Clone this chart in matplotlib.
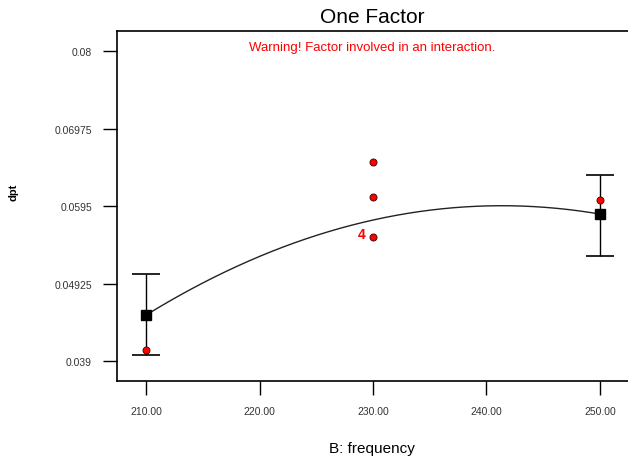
import matplotlib.pyplot as plt
import numpy as np

plt.rcParams['font.family'] = ['Liberation Sans', 'DejaVu Sans']

# design points (B: frequency) and the model means with their confidence bands
levels = [210.0, 250.0]
means = [0.04508, 0.05844]
band_low = [0.0398, 0.05289]
band_high = [0.0505, 0.0636]

# observed runs
obs_x = [210.0, 230.0, 230.0, 230.0, 250.0]
obs_y = [0.04045, 0.06532, 0.06069, 0.0554, 0.0603]

# fitted quadratic passes through these predictions
fit_x = [210.0, 230.0, 250.0]
fit_y = [0.04508, 0.05765, 0.05844]

yticks = [0.039, 0.04925, 0.0595, 0.06975, 0.08]
xticks = [210, 220, 230, 240, 250]

fig = plt.figure(figsize=(6.28, 4.64), dpi=100)
ax = fig.add_axes([0.1863, 0.1767, 0.8137, 0.7543])

coef = np.polyfit(fit_x, fit_y, 2)
xs = np.linspace(210, 250, 200)
ax.plot(xs, np.polyval(coef, xs), color='#222222', lw=1.0, zorder=2)

means = np.array(means)
ax.errorbar(levels, means,
            yerr=[means - np.array(band_low), np.array(band_high) - means],
            fmt='s', color='black', ms=7, ecolor='black', elinewidth=1.0,
            capsize=10, capthick=1.2, zorder=3)

ax.scatter(obs_x, obs_y, s=26, color='red', edgecolors='#400000',
           linewidths=0.6, zorder=4)
ax.text(229.3, obs_y[3] + 0.0004, '4', color='red', fontsize=10,
        fontweight='bold', ha='right', va='center')

ax.set_xlim(207.44, 252.47)
ax.set_ylim(0.03636, 0.08265)
ax.set_xticks(xticks)
ax.set_xticklabels(['%.2f' % t for t in xticks])
ax.set_yticks(yticks)
ax.set_yticklabels(['0.039', '0.04925', '0.0595', '0.06975', '0.08'])
ax.tick_params(direction='out', length=10, width=1.0, labelsize=7.5,
               labelcolor='#333333', pad=8)
ax.spines['right'].set_visible(False)
for s in ['left', 'top', 'bottom']:
    ax.spines[s].set_linewidth(1.2)

fig.text(0.593, 0.962, 'One Factor', ha='center', va='center', fontsize=15)
ax.text(0.5, 0.955, 'Warning! Factor involved in an interaction.',
        transform=ax.transAxes, ha='center', va='center', color='red',
        fontsize=9.5)
fig.text(0.593, 0.032, 'B: frequency', ha='center', va='center', fontsize=11)
fig.text(0.022, 0.585, 'dpt', rotation=90, ha='center', va='center',
         fontsize=8, fontweight='bold')

fig.savefig('out.png', dpi=100)
